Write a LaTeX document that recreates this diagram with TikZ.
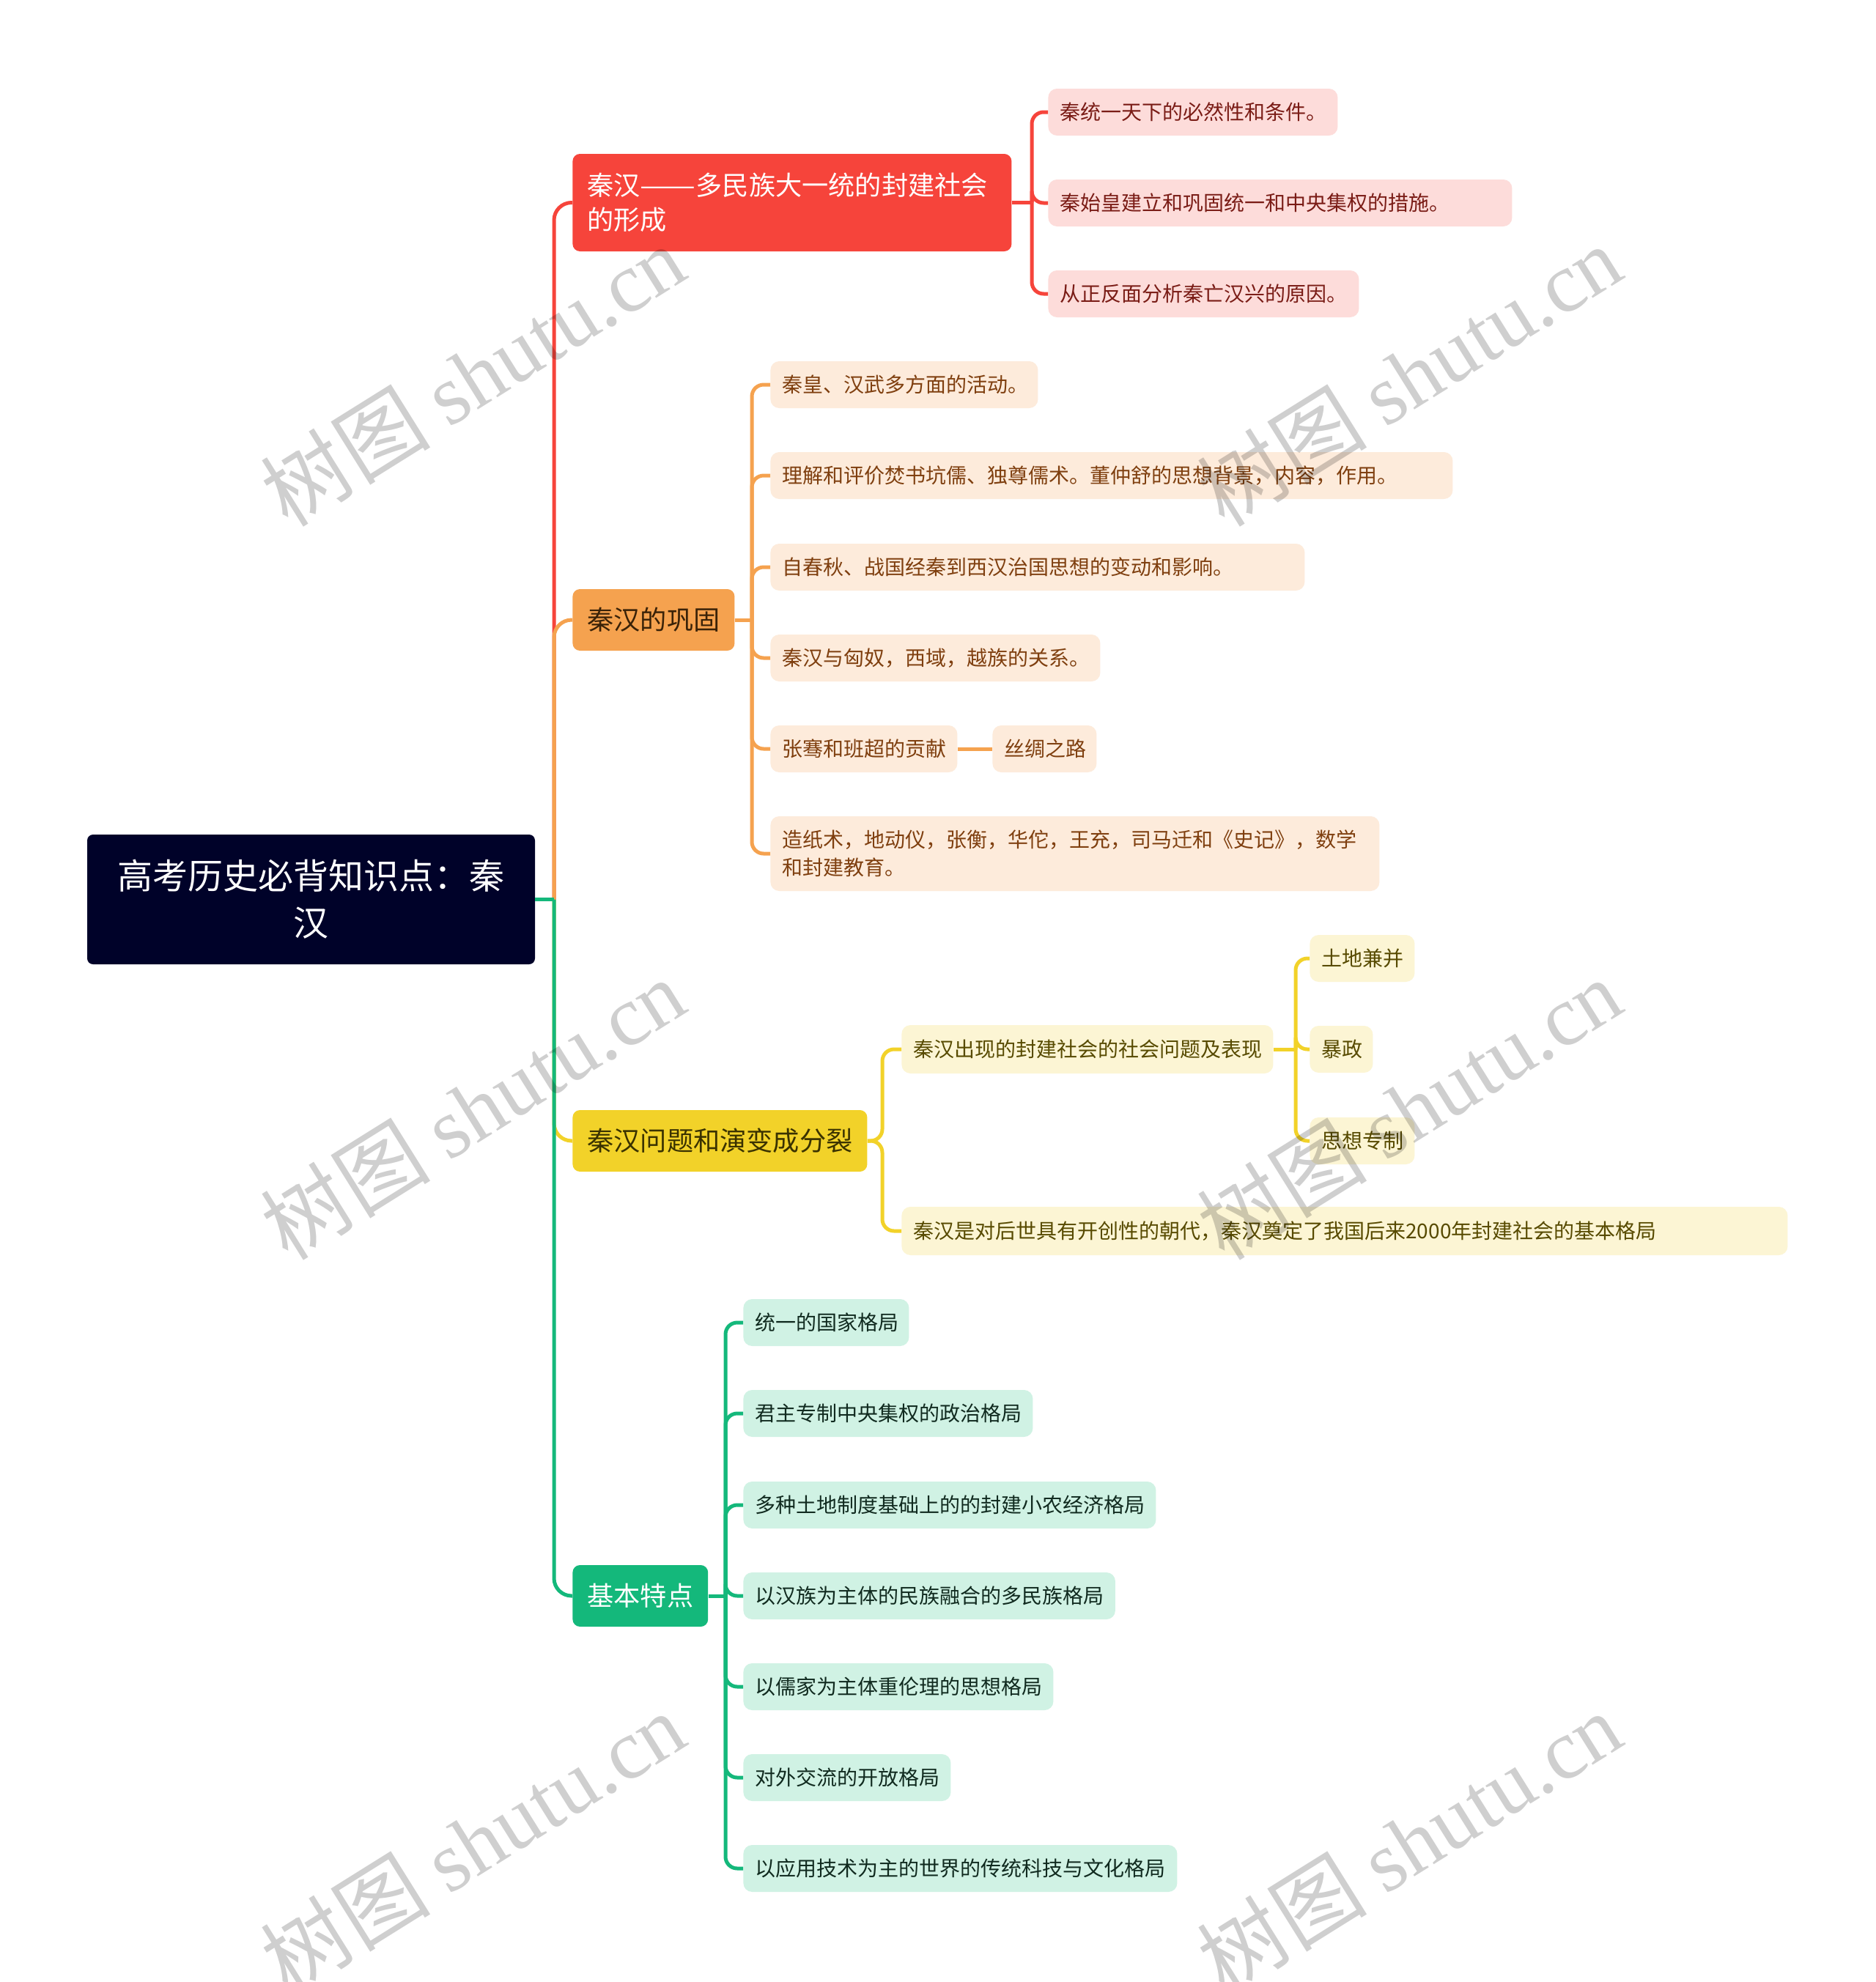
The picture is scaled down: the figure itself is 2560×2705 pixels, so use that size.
\documentclass[tikz,border=0pt]{standalone}
\usepackage{fontspec}
\setmainfont{Noto Sans CJK SC}
\newfontfamily\wmlatin{Liberation Serif}
\definecolor{rootbg}{HTML}{000229}
\definecolor{redm}{HTML}{F6443B}
\definecolor{redl}{HTML}{FDDCDA}
\definecolor{redt}{HTML}{7A1C16}
\definecolor{orm}{HTML}{F5A24F}
\definecolor{orl}{HTML}{FDEBDB}
\definecolor{ort}{HTML}{7F3F0F}
\definecolor{ordk}{HTML}{3A2208}
\definecolor{yem}{HTML}{F2D229}
\definecolor{yel}{HTML}{FCF5D4}
\definecolor{yet}{HTML}{574A00}
\definecolor{yedk}{HTML}{3A3200}
\definecolor{grm}{HTML}{14B87B}
\definecolor{grl}{HTML}{D0F2E4}
\definecolor{grt}{HTML}{102A1F}
\begin{document}
\begin{tikzpicture}[x=0.5pt,y=-0.5pt,
 rootnode/.style={fill=rootbg, text=white, rounded corners=4pt, minimum width=305.5pt, minimum height=88.5pt, align=center, font=\fontsize{24}{32}\selectfont, inner sep=0pt},
 branch/.style={rounded corners=5pt, anchor=west, inner xsep=10pt, inner ysep=0pt, minimum height=42pt, font=\fontsize{18.1}{23.3}\selectfont, align=left},
 leaf/.style={rounded corners=6pt, anchor=west, inner xsep=8pt, inner ysep=0pt, minimum height=32pt, font=\fontsize{14}{19}\selectfont, align=left, text width=#1},
 rleaf/.style={leaf=#1, fill=redl, text=redt},
 oleaf/.style={leaf=#1, fill=orl, text=ort},
 yleaf/.style={leaf=#1, fill=yel, text=yet},
 gleaf/.style={leaf=#1, fill=grl, text=grt},
 conn/.style={line width=2.5pt, rounded corners=12pt},
 sub/.style={line width=2.5pt, rounded corners=8pt},
 wm/.style={rotate=32, text=black, opacity=0.19, font=\fontsize{58}{58}\selectfont}
]
\useasboundingbox[fill=white] (0,0) rectangle (2560,2705);

% root
\node[rootnode] (root) at (424.5,1227.5) {高考历史必背知识点：秦\\汉};

% branches
\node[branch, fill=redm, text=white, minimum height=66.5pt, text width=279.5pt] (b1) at (781,276.5) {秦汉\scalebox{1.25}[1]{——}多民族大一统的封建社会\\的形成};
\node[branch, fill=orm, text=ordk] (b2) at (781,846) {秦汉的巩固};
\node[branch, fill=yem, text=yedk] (b3) at (781,1557) {秦汉问题和演变成分裂};
\node[branch, fill=grm, text=white] (b4) at (781,2178) {基本特点};

% red leaves
\node[rleaf=181.5pt] (r1) at (1430,153) {秦统一天下的必然性和条件。};
\node[rleaf=300.5pt] (r2) at (1430,277) {秦始皇建立和巩固统一和中央集权的措施。};
\node[rleaf=196pt] (r3) at (1430,401) {从正反面分析秦亡汉兴的原因。};

% orange leaves
\node[oleaf=166.5pt] (o1) at (1051,525) {秦皇、汉武多方面的活动。};
\node[oleaf=449.5pt] (o2) at (1051,649) {理解和评价焚书坑儒、独尊儒术。董仲舒的思想背景，内容，作用。};
\node[oleaf=348.5pt] (o3) at (1051,774) {自春秋、战国经秦到西汉治国思想的变动和影响。};
\node[oleaf=209pt] (o4) at (1051,898) {秦汉与匈奴，西域，越族的关系。};
\node[oleaf=111.5pt] (o5) at (1051,1022) {张骞和班超的贡献};
\node[oleaf=55pt] (o5a) at (1354,1022) {丝绸之路};
\node[oleaf=399.5pt, minimum height=51pt] (o6) at (1051,1165) {造纸术，地动仪，张衡，华佗，王充，司马迁和《史记》，数学\\和封建教育。};

% yellow leaves
\node[yleaf=237.5pt, minimum height=33pt] (y1) at (1230,1432) {秦汉出现的封建社会的社会问题及表现};
\node[yleaf=55.5pt] (y1a) at (1787,1308) {土地兼并};
\node[yleaf=27pt] (y1b) at (1787,1432) {暴政};
\node[yleaf=55.5pt] (y1c) at (1787,1557) {思想专制};
\node[yleaf=588.5pt, minimum height=33pt] (y2) at (1230,1680) {秦汉是对后世具有开创性的朝代，秦汉奠定了我国后来2000年封建社会的基本格局};

% green leaves
\node[gleaf=97pt] (g1) at (1014,1805) {统一的国家格局};
\node[gleaf=181.5pt] (g2) at (1014,1929) {君主专制中央集权的政治格局};
\node[gleaf=265.5pt] (g3) at (1014,2054) {多种土地制度基础上的的封建小农经济格局};
\node[gleaf=237.75pt] (g4) at (1014,2178) {以汉族为主体的民族融合的多民族格局};
\node[gleaf=195.5pt] (g5) at (1014,2302) {以儒家为主体重伦理的思想格局};
\node[gleaf=125.5pt] (g6) at (1014,2426) {对外交流的开放格局};
\node[gleaf=280pt] (g7) at (1014,2550) {以应用技术为主的世界的传统科技与文化格局};

% junction coordinates
\coordinate (trunk) at (756,1227.5);
\coordinate (rj) at (1408,276.5);
\coordinate (oj) at (1026,846);
\coordinate (yj) at (1204,1557);
\coordinate (yj2) at (1768,1432);
\coordinate (gj) at (990,2178);

% main connectors
\draw[conn, redm] (trunk) |- (b1.west);
\draw[conn, orm] (trunk) |- (b2.west);
\draw[conn, yem] (trunk) |- (b3.west);
\draw[conn, grm] (trunk) |- (b4.west);
\draw[line width=2.5pt, grm] (root.east) -- (trunk);

% red children
\draw[line width=2.5pt, redm] (b1.east) -- (rj);
\foreach \c in {r1,r2,r3} \draw[sub, redm] (rj) |- (\c.west);

% orange children
\draw[line width=2.5pt, orm] (b2.east) -- (oj);
\foreach \c in {o1,o2,o3,o4,o5,o6} \draw[sub, orm] (oj) |- (\c.west);
\draw[line width=2.5pt, orm] (o5.east) -- (o5a.west);

% yellow children
\draw[sub, yem] (b3.east) -- (yj) |- (y1.west);
\draw[sub, yem] (b3.east) -- (yj) |- (y2.west);
\draw[line width=2.5pt, yem] (y1.east) -- (yj2);
\foreach \c in {y1a,y1b,y1c} \draw[sub, yem] (yj2) |- (\c.west);

% green children
\draw[line width=2.5pt, grm] (b4.east) -- (gj);
\foreach \c in {g1,g2,g3,g4,g5,g6,g7} \draw[sub, grm] (gj) |- (\c.west);

% watermarks
\foreach \p in {(645,512),(1923,512),(645,1513),(1923,1513),(645,2514),(1923,2514)}
  \node[wm] at \p {树图 {\wmlatin shutu.cn}};
\end{tikzpicture}
\end{document}
